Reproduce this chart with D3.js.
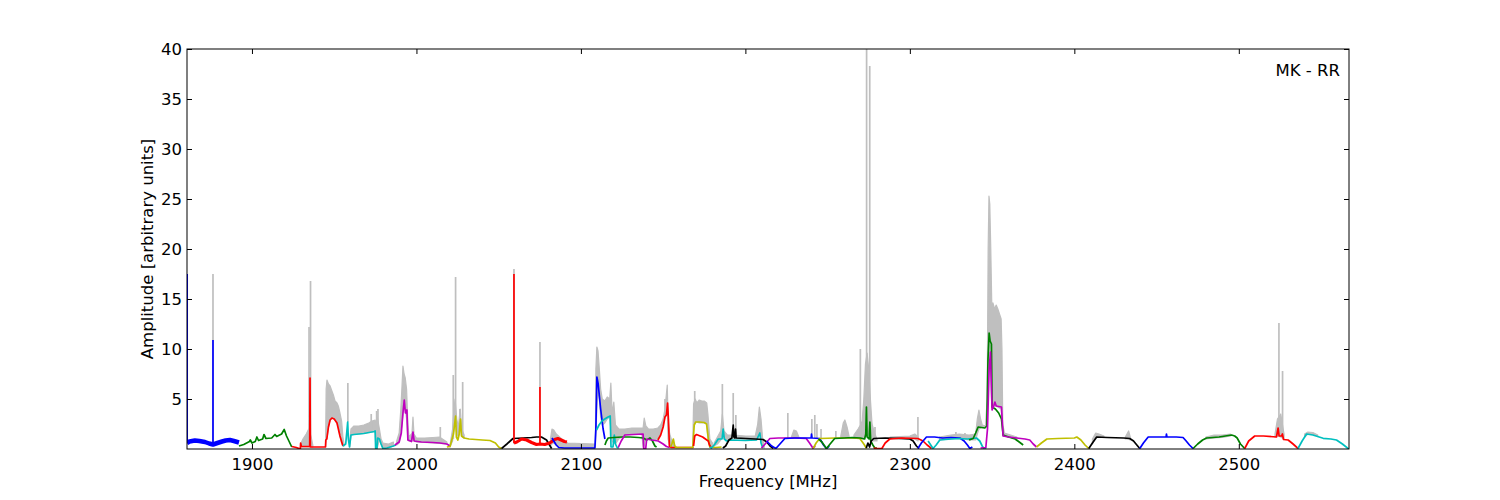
<!DOCTYPE html>
<html><head><meta charset="utf-8">
<script src="https://cdn.jsdelivr.net/npm/d3@7"></script>
<style>body{margin:0;background:#fff} svg{display:block} text{font-family:"DejaVu Sans",sans-serif}</style>
</head><body><svg id="c" width="1500" height="500"></svg>
<script>
// ---------------- DATA ----------------
const xTicks = [1900, 2000, 2100, 2200, 2300, 2400, 2500];
const yTicks = [5, 10, 15, 20, 25, 30, 35, 40];
const titleText = "MK - RR";
const xLabelText = "Frequency [MHz]";
const yLabelText = "Amplitude [arbitrary units]";
const xDomain = [1860.5, 2567];
const yDomain = [0, 40];

// gray raw spectrum: bands [freq, low, high]
const grayBand1 = [[1929.6,0.2,0.5],[1931,0.2,1.0],[1933,0.2,1.5],[1934.5,0.2,2.0],[1936,0.2,1.2],[1937,0.2,0.4]];
const grayBand2 = [[1944.8,0.2,1.0],[1945.1,0.9,6.0],[1945.6,1.0,6.9],[1946.5,2.2,6.5],[1947.5,2.9,6.3],[1948.6,3.1,5.8],[1949.5,3.1,5.4],[1950.5,2.9,4.8],[1951.7,2.6,4.6],[1952.5,2.2,4.3],[1953.5,1.3,3.6],[1954.5,0.6,2.8],[1955.3,0.3,1.2],[1956,0.3,0.5]];
const grayBand3 = [[1959.5,0.2,1.0],[1960.2,1.4,2.0],[1962,1.45,2.3],[1965,1.5,2.3],[1968,1.55,2.4],[1971,1.65,2.6],[1973,1.7,2.8],[1974.9,1.8,2.9],[1975.3,0.1,2.5],[1976.2,0.1,3.2],[1977.5,1.0,2.0],[1978.5,0.5,1.0],[1979.6,0.1,0.6],[1983,0.1,0.5],[1986,0.3,0.7]];
const grayBand4 = [[1988,0.4,0.8],[1989.5,0.6,1.6],[1990.5,1.5,4.0],[1991.2,2.5,6.2],[1991.8,3.5,8.3],[1992.5,4.5,7.5],[1993.2,4.0,7.1],[1994,3.0,6.0],[1994.8,0.9,2.5],[1995.5,0.8,1.2],[1997.3,0.8,1.6],[1997.9,1.6,3.2],[1998.5,0.8,1.5],[2000,0.7,1.1],[2005,0.65,1.1],[2010,0.6,1.15],[2014,0.55,1.2],[2018.5,0.5,0.7]];
const grayBand5 = [[2020.4,0.2,0.4],[2022,0.8,2.0],[2022.8,2.0,4.0],[2023.5,3.0,5.0],[2024.5,1.5,3.0],[2025.5,1.2,2.2],[2026.6,2.5,4.0],[2027.5,1.3,2.0],[2029,1.1,1.4]];
const grayBand6 = [[2081.5,0.3,1.0],[2082.4,0.5,2.0],[2083.5,0.6,1.9],[2085,0.4,1.5],[2087,0.2,1.2],[2089,0.1,0.9],[2092,0.1,0.6],[2108.5,0.1,0.5]];
const grayBand7 = [[2108.8,0.2,0.5],[2109.1,1.5,8.0],[2109.7,4.0,10.2],[2110.4,6.0,9.8],[2111.2,5.0,8.0],[2112,3.2,6.0],[2113,2.4,5.0],[2114.5,2.6,4.8],[2116,3.0,5.2],[2117.5,3.2,5.0],[2118.2,2.0,6.6],[2119,0.8,3.5],[2120,0.6,4.7],[2121,0.5,2.4],[2123,1.0,2.0],[2126.7,1.4,2.0],[2131,1.45,2.1],[2137,1.5,2.1],[2137.8,0.2,2.1],[2138.5,0.3,3.1],[2139.5,1.2,2.3],[2141,1.1,2.0],[2144,0.9,2.0],[2146.8,1.0,2.1],[2148.5,1.6,2.4],[2150,2.4,3.0],[2151.1,3.2,4.0],[2152.5,4.0,6.4],[2153,1.0,3.0],[2154,0.3,1.5],[2155.3,0.2,0.8],[2157,0.2,0.4]];
const grayBand8 = [[2168,0.2,0.5],[2168.5,2.3,4.5],[2169.5,2.7,5.0],[2170.5,2.7,4.6],[2172,2.6,4.9],[2173.5,2.6,4.8],[2175,2.6,4.8],[2176.5,2.5,4.6],[2177.2,1.0,3.5],[2178.4,0.2,1.0],[2180,0.3,0.6]];
const grayBand9 = [[2181,0.3,0.6],[2183,0.5,1.2],[2185,0.9,1.8],[2186,2.0,3.5],[2187,1.0,1.8],[2189,0.9,1.4],[2191,1.0,1.4],[2193,1.0,1.4],[2200,1.0,1.3],[2206,0.9,1.3],[2207.5,1.0,2.5],[2208.5,1.5,4.2],[2209.5,1.0,3.0],[2210.5,0.3,1.0],[2211.5,0.1,0.4]];
const grayBand10 = [[2228,1.1,1.2],[2229.5,1.1,1.9],[2231,1.1,1.8],[2232.5,1.1,1.2]];
const grayBand11 = [[2258,1.1,1.3],[2259.5,1.2,2.6],[2260.5,1.2,2.9],[2261.8,1.2,2.2],[2263,1.1,1.3]];
const grayBand12 = [[2266,1.1,1.4],[2268.5,1.1,2.0],[2270,1.1,2.4],[2271,1.0,2.8],[2272,1.0,5.0],[2273,1.5,8.5],[2274,2.0,9.6],[2275,1.5,8.0],[2276,1.0,5.0],[2277,0.8,2.5],[2278.5,0.8,1.6],[2280,0.8,1.0]];
const grayBand13 = [[2288,1.0,1.2],[2300,1.0,1.3],[2303,1.0,1.5],[2305,0.8,1.2]];
const grayBand14 = [[2318,0.9,1.2],[2325,1.0,1.4],[2330,1.05,1.5],[2336,0.9,1.4],[2340,0.9,1.5],[2341,1.5,3.0],[2342,2.0,3.9],[2343,2.1,3.0],[2344,2.2,2.4],[2346,2.2,2.3],[2347,2.5,5],[2347.6,8,20],[2348.1,11,25.3],[2348.6,10,24.5],[2349.2,8,20],[2349.8,4.2,14.5],[2350.5,4.3,14.6],[2351.5,4.3,14.0],[2352.5,4.3,14.4],[2353.5,4.2,14.0],[2354.5,4.1,13.5],[2355.5,4.0,13.0],[2356,3.0,10],[2356.5,1.3,2.5],[2357.5,1.3,1.6],[2365,1.0,1.2]];
const grayBand15 = [[2411,0.5,1.0],[2413,1.1,1.6],[2415,1.2,1.5],[2418,1.2,1.3]];
const grayBand16 = [[2431,1.0,1.2],[2433,1.0,1.8],[2434,0.9,1.2]];
const grayBand17 = [[2480,1.0,1.2],[2485,1.1,1.4],[2490,1.15,1.4],[2495,1.3,1.5]];
const grayBand18 = [[2522,1.2,1.5],[2523.5,1.3,3.0],[2525.5,1.2,3.5],[2527.5,1.0,1.5]];
const grayBand19 = [[2540,1.2,1.5],[2542,1.5,1.7],[2545,1.45,1.65],[2548,1.3,1.4]];
// gray narrow spikes: [freq, base, peak]
const graySpikes = [[1876.3,0.5,17.5],[1934.7,0.3,12.2],[1935.6,0.3,16.8],[1958.3,2.7,6.6],[1972.5,2,3.5],[1975.8,1,3.8],[1976.6,1,4.0],[2014.5,0.55,2.2],
  [2022.4,1,7.4],[2023.8,3.3,17.2],[2026.4,2.5,4.0],[2028.1,1.2,6.7],[2059.3,0.5,18.0],[2075.1,0.5,10.7],[2151.1,3.2,5.0],[2169.2,2.7,5.8],
  [2186.0,2.0,6.5],[2192.6,2.4,5.6],[2194.2,1.5,3.4],[2225.8,1.1,3.6],[2240.4,1.1,3.0],[2242.2,1.1,3.4],[2243.5,1.1,2.5],[2246,1.0,2.0],
  [2255,1.1,1.8],[2269.9,1.1,10.0],[2273.7,2,41],[2275.6,2,38.3],[2278.8,0.9,2.2],[2304.9,1.0,3.2],[2328,1.0,1.7],[2333.5,1.0,1.6],[2524.4,1.3,12.6],[2526.6,1.1,7.8]];

// narrow coloured spikes on the noisy segments: [freq, base, peak]
const blueSpikes = [[1860.6,0.6,17.5],[1876.3,0.5,10.9]];
const redSpikes = [[2059.3,0.6,17.5],[2075.1,0.5,6.2]];

// coloured segments: [freq, amplitude]
const seg01 = [[1860.5,0.6],[1862,0.75],[1865.3,0.85],[1868,0.8],[1871.4,0.7],[1874,0.55],[1876.3,0.45],[1879,0.6],[1881.8,0.75],[1884,0.85],[1886.6,0.9],[1889,0.8],[1892.1,0.65]];
const seg02 = [[1892.1,0.3],[1895,0.45],[1898.5,0.75],[1899,0.9],[1900,0.6],[1902,0.75],[1903,1.2],[1904,0.85],[1906.5,1.0],[1907.3,1.45],[1908.5,1.05],[1912,1.1],[1914,1.45],[1915,1.25],[1918,1.5],[1919.6,1.95],[1921,1.3],[1924.2,0.2]];
const seg03 = [[1924.2,0.25],[1927,0.15],[1929.4,0.0],[1929.6,0.6],[1930,0.25],[1935.1,0.25],[1935.3,7.1],[1935.5,0.2],[1944.7,0.2],[1944.9,0.9],[1945.5,1.0],[1946.5,2.2],[1947.5,2.9],[1948.6,3.1],[1950,3.0],[1951.7,2.6],[1953.5,1.3],[1955.3,0.3]];
const seg04 = [[1955.3,0.3],[1957,0.5],[1958.2,2.7],[1958.6,1.0],[1959.3,0.2],[1960.2,1.4],[1962,1.45],[1968,1.55],[1974.5,1.75],[1974.9,1.8],[1975.2,0.05],[1976,0.05],[1976.4,1.1],[1977.5,1.0],[1978.5,0.5],[1979.6,0.05],[1982,0.1],[1986,0.3],[1987.5,0.4]];
const seg05 = [[1986.9,0.4],[1989.5,0.7],[1990.8,1.6],[1991.8,3.6],[1992.6,4.9],[1993.3,3.6],[1994.2,3.9],[1994.8,0.9],[1997,0.75],[1997.9,1.7],[1998.6,0.8],[2003,0.7],[2010,0.65],[2014.3,0.6],[2018.5,0.5],[2020.4,0.3]];
const seg06 = [[2018.5,0.2],[2020.4,0.25],[2021.5,0.9],[2022.5,1.5],[2023.8,3.3],[2024.3,1.2],[2025.2,0.9],[2026,1.5],[2026.8,3.0],[2027.4,1.3],[2029,1.1],[2032,1.0],[2040,0.9],[2044.7,0.85],[2048,0.6],[2050,0.2],[2052,0.02]];
const seg07 = [[2051.8,0.05],[2055,0.5],[2058.7,1.05],[2065,1.1],[2070,1.15],[2073,1.2],[2076,1.2],[2079.1,0.9],[2080.5,0.5],[2082.2,0.05]];
const seg08 = [[2059.3,0.6],[2061,0.7],[2064,1.0],[2067,0.9],[2070,0.65],[2073,0.45],[2075.1,0.5],[2078,0.45],[2081,0.6],[2084,0.95],[2086,1.05],[2088,0.9],[2090,0.75],[2091.5,0.7]];
const seg09 = [[2082.4,1.1],[2083.5,0.8],[2085,0.4],[2086.5,0.15],[2090,0.1],[2108.5,0.1],[2109.1,2.0],[2109.7,7.2],[2110.5,6.5],[2112,4.0],[2113.5,2.0],[2114.6,1.0]];
const seg10 = [[2109.5,1.9],[2111,2.4],[2112.8,2.8],[2114.5,3.0],[2116.5,3.2],[2117.8,3.3],[2118.3,0.2],[2119.5,0.2],[2120.3,1.4],[2121,0.5],[2122,0.15],[2123,0.1]];
const seg11 = [[2114.6,0.4],[2115.5,0.8],[2116.6,1.1],[2120,1.15],[2125,1.2],[2130,1.2],[2135,1.15],[2137.9,1.1],[2140,0.9],[2142,1.1],[2143.5,0.8],[2145,0.3],[2146,0.2]];
const seg12 = [[2122.7,0.15],[2124.5,0.8],[2126.7,1.4],[2132,1.45],[2137.8,1.5],[2138.2,0.05],[2139.4,0.05],[2140,1.0],[2143,0.9],[2147,0.8],[2150,0.5],[2152,0.25],[2154,0.15]];
const seg13 = [[2146.8,0.9],[2148.5,1.4],[2150,2.2],[2151.1,3.2],[2152,3.4],[2152.7,4.6],[2153.2,3.0],[2153.8,0.3],[2155,0.15],[2158.4,0.15],[2168.5,0.15]];
const seg14 = [[2154.5,0.2],[2155.3,0.5],[2156.2,1.0],[2157,0.3],[2158,0.15],[2168,0.15],[2168.9,2.4],[2169.8,2.7],[2172,2.7],[2175,2.65],[2176.4,2.5],[2177.5,1.0],[2178.4,0.2],[2182,0.15],[2185.5,0.2]];
const seg15 = [[2168.5,0.3],[2169.2,1.3],[2170.3,1.45],[2174,1.2],[2177.4,0.8],[2178.2,0.4],[2179,0.2]];
const seg16 = [[2178.4,0.2],[2179.4,0.1],[2181.5,0.5],[2183.5,1.0],[2185.8,1.0],[2186.5,2.0],[2187.2,1.0],[2188.6,0.8],[2190.6,0.9],[2200,0.85],[2206.8,0.9],[2208.8,1.6],[2209.5,0.6],[2210.6,0.1]];
const seg17 = [[2186.3,0.1],[2188,0.3],[2190,0.9],[2191.8,1.1],[2192.6,2.4],[2193,1.2],[2193.6,1.1],[2194,2.0],[2194.4,1.1],[2200,1.05],[2206,1.0],[2210.8,0.95],[2213,0.7],[2215,0.3],[2217,0.05]];
const seg18 = [[2209.8,0.1],[2212,0.5],[2214.9,1.05],[2220,1.1],[2230,1.1],[2237,1.05],[2239,0.6],[2241,0.1],[2242.5,0.3]];
const seg19 = [[2212.9,0.8],[2216,0.3],[2218.5,0.05],[2221,0.5],[2224,1.05],[2230,1.1],[2240,1.1],[2240.2,1.5],[2240.5,1.1],[2245.2,1.05],[2247.5,0.4],[2249.3,0.05],[2251,0.3]];
const seg20 = [[2241.2,0.05],[2243,0.6],[2245.2,1.05],[2255,1.1],[2265,1.1],[2269.6,1.05],[2272,0.5],[2273.7,0.05]];
const seg21 = [[2244.5,1.0],[2246.5,0.7],[2249.3,0.05],[2251.5,0.5],[2254.3,1.05],[2260,1.1],[2265,1.15],[2270,1.1],[2272.5,1.0],[2273.2,1.5],[2273.6,4.2],[2274,1.2],[2275.2,1.0],[2275.7,2.7],[2276.2,0.8],[2277.5,0.4],[2278.7,0.1],[2280,0.1]];
const seg22 = [[2273.5,0.1],[2274.5,0.6],[2275.5,0.2],[2276.5,0.8],[2278,1.05],[2285,1.1],[2295,1.05],[2300,1.0],[2302,0.8],[2304,0.3],[2305.5,0.05]];
const seg23 = [[2278,0.1],[2280,0.05],[2283,0.05],[2285,0.6],[2287.8,1.0],[2295,1.1],[2304.9,1.05],[2308,0.8],[2310.5,0.4],[2313.2,0.05]];
const seg24 = [[2304.9,0.05],[2307,0.6],[2310.1,1.2],[2315,1.2],[2320,1.1],[2325,1.15],[2330.4,1.1],[2333,0.8],[2335,0.4],[2336.5,0.05],[2338,0.2]];
const seg25 = [[2311.1,0.8],[2314.1,0.05],[2316,0.4],[2318.2,0.9],[2325,1.0],[2330,1.05],[2335,1.0],[2337.5,1.05],[2340.5,1.1],[2342.5,0.8],[2344,0.3],[2345,0.05],[2346.5,0.1]];
const seg26 = [[2336,0.9],[2338.5,1.05],[2340,1.6],[2341.5,2.2],[2345.6,2.1],[2346.8,2.3],[2347.5,9],[2348.2,11.6],[2348.8,10.8],[2349.6,10.5],[2350,4.2],[2352,4.0],[2354,3.6],[2355.7,3.0],[2356.7,1.4],[2360,1.2],[2364,1.0],[2366.5,0.7],[2368.9,0.4]];
const seg27 = [[2343,0.1],[2346.2,0.15],[2347.2,2],[2348.2,8],[2349,9.7],[2349.6,6],[2350,3.9],[2351,4.3],[2351.7,4.7],[2352.5,4.3],[2355.7,4.2],[2356.7,1.3],[2360,1.2],[2365,1.1],[2370,1.0],[2372.9,0.9],[2375,0.5],[2377,0.2]];
const seg28 = [[2377,0.2],[2380,0.6],[2383.3,1.0],[2390,1.05],[2400,1.1],[2401.5,1.2],[2404,0.9],[2406.5,0.4],[2408.8,0.05]];
const seg29 = [[2408.8,0.05],[2411,0.6],[2413.6,1.2],[2420,1.15],[2430,1.1],[2433.7,1.05],[2436,0.8],[2438,0.4],[2439.8,0.05]];
const seg30 = [[2439.8,0.05],[2442,0.6],[2444.9,1.2],[2450,1.2],[2455.8,1.2],[2456,1.5],[2456.3,1.2],[2462,1.2],[2466.1,1.15],[2468,0.8],[2470,0.4],[2472.2,0.05]];
const seg31 = [[2472.2,0.05],[2475,0.5],[2478,0.9],[2480.4,1.1],[2488,1.2],[2495.6,1.4],[2497.5,1.3],[2499,1.1],[2501,0.5],[2503.6,0.05]];
const seg32 = [[2503.6,0.05],[2506,0.8],[2509.7,1.3],[2515,1.3],[2522.9,1.2],[2523.9,2.1],[2524.5,1.3],[2526,1.3],[2526.5,1.5],[2527.2,0.95],[2530,0.9],[2533,0.5],[2536,0.05]];
const seg33 = [[2536,0.05],[2538.5,0.8],[2541.2,1.5],[2545,1.4],[2551.3,1.07],[2556,1.0],[2559.4,0.9],[2563,0.5],[2566.4,0.05],[2567,0.02]];
const segColorCodes = ['b','g','r','c','m','y','k','r','b','c','g','m','r','y','r','c','k','m','b','y','g','k','r','b','c','g','m','y','k','b','g','r','c'];

// ---------------- DRAWING ----------------
const colorMap = {b:'#0000ff', g:'#008000', r:'#ff0000', c:'#00bfbf', m:'#bf00bf', y:'#bfbf00', k:'#000000'};
const grayColor = '#bfbfbf';
const grayBands = [grayBand1,grayBand2,grayBand3,grayBand4,grayBand5,grayBand6,grayBand7,grayBand8,grayBand9,grayBand10,grayBand11,grayBand12,grayBand13,grayBand14,grayBand15,grayBand16,grayBand17,grayBand18,grayBand19];
const segments = [seg01,seg02,seg03,seg04,seg05,seg06,seg07,seg08,seg09,seg10,seg11,seg12,seg13,seg14,seg15,seg16,seg17,seg18,seg19,seg20,seg21,seg22,seg23,seg24,seg25,seg26,seg27,seg28,seg29,seg30,seg31,seg32,seg33];

const L = 187, R = 1349, T = 49, B = 449;
const svg = d3.select('#c');
const x = d3.scaleLinear().domain(xDomain).range([L, R]);
const y = d3.scaleLinear().domain(yDomain).range([B, T]);

svg.append('defs').append('clipPath').attr('id','clip')
  .append('rect').attr('x', L).attr('y', T).attr('width', R - L).attr('height', B - T);
const plot = svg.append('g').attr('clip-path','url(#clip)');

const area = d3.area().x(d => x(d[0])).y0(d => y(d[1])).y1(d => y(d[2]));
grayBands.forEach(b => {
  plot.append('path').attr('d', area(b)).attr('fill', grayColor)
    .attr('stroke', grayColor).attr('stroke-width', 1.2).attr('stroke-linejoin','round');
});
function drawSpikes(data, color, w) {
  data.forEach(d => {
    plot.append('line').attr('x1', x(d[0])).attr('x2', x(d[0]))
      .attr('y1', y(d[1])).attr('y2', y(d[2]))
      .attr('stroke', color).attr('stroke-width', w);
  });
}
drawSpikes(graySpikes, grayColor, 1.7);

const line = d3.line().x(d => x(d[0])).y(d => y(d[1]));
segments.forEach((s, i) => {
  const w = i === 0 ? 4.5 : (i === 7 ? 3.2 : 1.7);
  plot.append('path').attr('d', line(s)).attr('fill','none')
    .attr('stroke', colorMap[segColorCodes[i]])
    .attr('stroke-width', w)
    .attr('stroke-linejoin','round');
  if (i === 0) drawSpikes(blueSpikes, colorMap.b, 1.7);
  if (i === 7) drawSpikes(redSpikes, colorMap.r, 1.7);
});

// frame
svg.append('rect').attr('x', L).attr('y', T).attr('width', R - L).attr('height', B - T)
  .attr('fill','none').attr('stroke','#000').attr('stroke-width',1);

// axes with inward ticks
const fs = 16.5;
const xb = svg.append('g').attr('transform',`translate(0,${B})`)
  .call(d3.axisBottom(x).tickValues(xTicks).tickSize(-5).tickPadding(9).tickFormat(d3.format('d')));
const xt = svg.append('g').attr('transform',`translate(0,${T})`)
  .call(d3.axisTop(x).tickValues(xTicks).tickSize(-5).tickFormat(''));
const yl = svg.append('g').attr('transform',`translate(${L},0)`)
  .call(d3.axisLeft(y).tickValues(yTicks).tickSize(-5).tickPadding(5).tickFormat(d3.format('d')));
const yr = svg.append('g').attr('transform',`translate(${R},0)`)
  .call(d3.axisRight(y).tickValues(yTicks).tickSize(-5).tickFormat(''));
[xb, xt, yl, yr].forEach(g => {
  g.select('.domain').remove();
  g.selectAll('.tick line').attr('stroke','#000');
  g.selectAll('text').attr('font-size', fs).attr('fill','#000').attr('font-family','"DejaVu Sans", sans-serif');
});

svg.append('text').attr('x', (L + R) / 2).attr('y', 487).attr('text-anchor','middle')
  .attr('font-size', fs).text(xLabelText);
svg.append('text').attr('transform',`translate(153,${(T + B) / 2}) rotate(-90)`).attr('text-anchor','middle')
  .attr('font-size', fs).text(yLabelText);
svg.append('text').attr('x', 1340).attr('y', 76).attr('text-anchor','end')
  .attr('font-size', fs).text(titleText);
</script></body></html>
